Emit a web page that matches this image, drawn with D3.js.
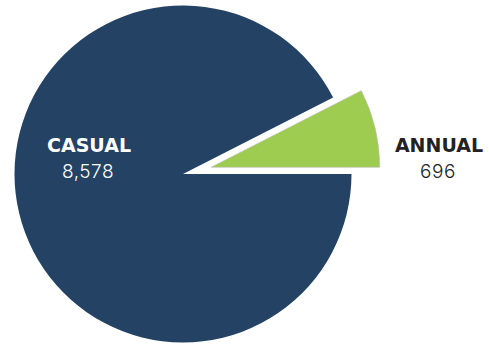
<!DOCTYPE html>
<html>
<head>
<meta charset="utf-8">
<script src="https://cdnjs.cloudflare.com/ajax/libs/d3/7.8.5/d3.min.js"></script>
<style>
  html, body { margin: 0; padding: 0; background: #fff; }
  svg { display: block; }
</style>
</head>
<body>
<div id="chart"></div>
<script>
// data
const categories = ["CASUAL", "ANNUAL"];
const values = [8578, 696];
const colors = ["#234264", "#9ecc50"];

const width = 489, height = 345;
const cx = 183, cy = 174, radius = 168.5;
const explode = 29;   // annual slice pulled out

const svg = d3.select("#chart").append("svg")
    .attr("width", width).attr("height", height);

const pie = d3.pie().sort(null)
    .startAngle(Math.PI / 2).endAngle(Math.PI / 2 + 2 * Math.PI);
const arc = d3.arc().innerRadius(0).outerRadius(radius);

const slices = pie(values);
slices.forEach((p, i) => { p.name = categories[i]; p.color = colors[i]; });

const g = svg.append("g").attr("transform", `translate(${cx},${cy})`);

g.selectAll("path").data(slices).enter()
    .append("path")
    .attr("d", arc)
    .attr("fill", d => d.color)
    .attr("stroke", (d, i) => i === 1 ? "#b9b9b9" : "none")
    .attr("stroke-width", 0.6)
    .attr("transform", (d, i) => {
        if (i !== 1) return null;
        const mid = (d.startAngle + d.endAngle) / 2;
        return `translate(${Math.sin(mid) * explode},${-Math.cos(mid) * explode})`;
    });

// labels
const labelX = [89, 439];
const labelFill = ["#ffffff", "#222222"];
slices.forEach((d, i) => {
    svg.append("text")
        .attr("x", labelX[i]).attr("y", 152)
        .attr("text-anchor", "middle")
        .attr("font-family", "'DejaVu Sans', sans-serif")
        .attr("font-weight", "bold").attr("font-size", 19)
        .attr("fill", labelFill[i])
        .text(d.name);
    svg.append("text")
        .attr("x", labelX[i] - 1).attr("y", 178)
        .attr("text-anchor", "middle")
        .attr("font-family", "Inter, Lato, sans-serif")
        .attr("font-weight", 300).attr("font-size", 19)
        .attr("letter-spacing", 0.5)
        .attr("fill", labelFill[i])
        .text(d3.format(",")(d.value));
});
</script>
</body>
</html>
